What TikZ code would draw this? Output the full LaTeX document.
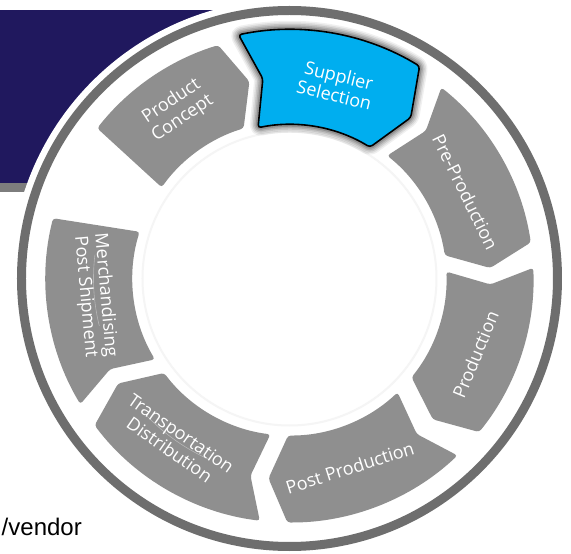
\documentclass[tikz,border=0pt]{standalone}
\usepackage{fontspec}
\setmainfont{Open Sans}
\newfontfamily\arialf{Liberation Sans}
\definecolor{navy}{RGB}{32,24,94}
\definecolor{seggray}{RGB}{143,143,143}
\definecolor{ringgray}{RGB}{110,110,110}
\definecolor{bandgray}{RGB}{125,125,125}
\definecolor{cyanblue}{RGB}{0,174,239}
% chevron segment: #1 ccw angle, #2 cw angle, #3 outer r, #4 inner r, #5 mid r, #6 style
\newcommand\chevseg[6]{%
  \path[#6] (#1:#3pt) arc[start angle=#1, end angle=#2, radius=#3pt]
    -- ({#2-5.5}:#5pt) -- (#2:#4pt)
    arc[start angle=#2, end angle=#1, radius=#4pt]
    -- ({#1-4.2}:#5pt) -- cycle;}
\tikzset{
  seg/.style={fill=seggray, rounded corners=3pt},
  lbl/.style={text=white, font=\fontsize{18}{20}\selectfont, align=center, inner sep=0pt},
  sepline/.style={draw=white, draw opacity=0.35, line width=0.6pt},
}
\begin{document}
\begin{tikzpicture}
% canvas: origin at circle centre, 1 unit = 1pt
\useasboundingbox[fill=white] (-289.5pt,-275.5pt) rectangle (281.5pt,278.5pt);
% header banner
\fill[navy] (-289.5pt,95.5pt) rectangle (20pt,268.5pt);
\fill[bandgray] (-289.5pt,86.5pt) rectangle (20pt,95.5pt);
\fill[white] (0,0) circle[radius=279pt];
% outer ring
\draw[ringgray, line width=9pt] (0,0) circle[radius=268pt];
% faint inner circle
\draw[black!4, line width=2pt] (0,0) circle[radius=147pt];
% Product Concept (flat tail)
\path[seg] (142:244pt) arc[start angle=142, end angle=107, radius=244pt]
  -- (101.5:201pt) -- (107:157pt)
  arc[start angle=107, end angle=144.5, radius=157pt] -- cycle;
% Pre-Production, Production, Post Production, Transportation
\chevseg{51.5}{8.5}{244}{157}{201}{seg}
\chevseg{2.5}{-39}{244}{157}{201}{seg}
\chevseg{-46.5}{-90.5}{244}{157}{201}{seg}
\chevseg{-97}{-143}{244}{157}{201}{seg}
% Merchandising (flat head)
\path[seg] (-149:244pt) arc[start angle=-149, end angle=-194.3, radius=244pt]
  -- (-197.3:157pt) arc[start angle=-197.3, end angle=-149, radius=157pt]
  -- (-153.2:201pt) -- cycle;
% Supplier Selection highlighted: glow, fill, outline
\foreach \w/\o in {17/0.06,14/0.08,11/0.1,8/0.12,5/0.16}{
  \chevseg{101.8}{58.5}{249}{154}{201.5}{draw=black, line width=\w pt, draw opacity=\o, rounded corners=3pt, line join=round}
}
\chevseg{101.8}{58.5}{249}{154}{201.5}{fill=cyanblue, draw=black, line width=1.6pt, rounded corners=3pt}
% labels
\node[lbl, rotate=33.7] (pc) at (123.7:202.6pt) {Product\\Concept};
\node[lbl, rotate=-13.7] (ss) at (76.3:199pt) {Supplier\\Selection};
\node[lbl, rotate=-63.8] (pp) at (26.2:196pt) {Pre-Production};
\node[lbl, rotate=67.7] (pr) at (-22.3:201pt) {Production};
\node[lbl, rotate=17.7] (po) at (-72.3:198.5pt) {Post Production};
\node[lbl, rotate=-35] (td) at (-125:199pt) {Transportation\\Distribution};
\node[lbl, rotate=-84.9] (mp) at (-174.9:195pt) {Merchandising\\Post Shipment};
% faint separators between label lines
\draw[sepline] (-136:198pt) arc[start angle=-136, end angle=-114, radius=198pt];
\draw[sepline] (173:196pt) arc[start angle=173, end angle=194, radius=196pt];
% cut-off caption
\node[anchor=base east, inner sep=0pt, font=\arialf\fontsize{24}{26}\selectfont] (vd) at (-207.5pt,-256.5pt) {/vendor};
\end{tikzpicture}
\end{document}
